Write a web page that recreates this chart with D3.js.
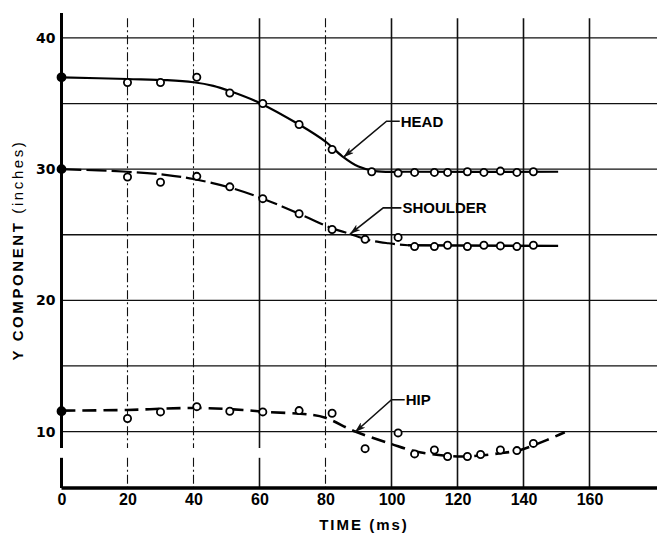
<!DOCTYPE html>
<html>
<head>
<meta charset="utf-8">
<script src="https://cdn.jsdelivr.net/npm/d3@7"></script>
<style>
  body { margin: 0; background: #fff; }
  svg { display: block; }
</style>
</head>
<body>
<div id="graph"></div>
<script>
// Data (time in ms, Y component in inches)

let timeTicks = [0, 20, 40, 60, 80, 100, 120, 140, 160];
let yTicks = [10, 20, 30, 40];
let yGrid = [10, 15, 20, 25, 30, 35, 40];

let headT = [0, 20, 30, 41, 51, 61, 72, 82, 94, 102, 107, 113, 117, 123, 128, 133, 138, 143];
let headY = [37.0, 36.6, 36.6, 37.0, 35.8, 35.0, 33.4, 31.5, 29.8, 29.7, 29.75, 29.75, 29.75, 29.8, 29.75, 29.85, 29.75, 29.8];

let shoulderT = [0, 20, 30, 41, 51, 61, 72, 82, 92, 102, 107, 113, 117, 123, 128, 133, 138, 143];
let shoulderY = [30.0, 29.4, 29.0, 29.45, 28.65, 27.75, 26.6, 25.4, 24.65, 24.8, 24.1, 24.1, 24.2, 24.1, 24.2, 24.15, 24.1, 24.2];

let hipT = [0, 20, 30, 41, 51, 61, 72, 82, 92, 102, 107, 113, 117, 123, 127, 133, 138, 143];
let hipY = [11.55, 11.0, 11.5, 11.9, 11.55, 11.5, 11.6, 11.4, 8.7, 9.9, 8.3, 8.6, 8.1, 8.1, 8.25, 8.6, 8.55, 9.1];

// faired curves as drawn on the chart
let headCurveT = [0, 20, 32, 40, 46, 51, 60, 72, 80, 85, 90, 95, 105, 150.5];
let headCurveY = [37.0, 36.87, 36.78, 36.62, 36.35, 35.95, 35.05, 33.4, 32.1, 31.0, 30.2, 29.85, 29.8, 29.8];

let shoulderCurveT = [0, 20, 32, 40, 51, 61, 72, 82, 87, 93, 99, 105, 150.5];
let shoulderCurveY = [30.0, 29.8, 29.55, 29.25, 28.6, 27.75, 26.6, 25.5, 25.1, 24.6, 24.35, 24.2, 24.15];

let hipCurveT = [0, 20, 40, 55, 62, 75, 80, 89, 100, 107, 115, 122, 133, 139, 147, 152.5];
let hipCurveY = [11.6, 11.65, 11.8, 11.65, 11.5, 11.3, 11.05, 10.0, 9.05, 8.5, 8.2, 8.1, 8.35, 8.6, 9.35, 9.95];

// callouts: label, text start (t, y), elbow (t, y), arrow tip (t, y)
let labels = [
  { name: 'HEAD', t: 102.5, y: 33.65, elbowT: 98.5, elbowY: 33.65, tipT: 85.4, tipY: 30.9 },
  { name: 'SHOULDER', t: 103, y: 27.05, elbowT: 97.5, elbowY: 27.05, tipT: 87.4, tipY: 25.05 },
  { name: 'HIP', t: 104, y: 12.43, elbowT: 100, elbowY: 12.43, tipT: 88.9, tipY: 9.95 },
];

// D3 Code
let width = 657;
let height = 535;

let x = d3.scaleLinear().domain([0, 180]).range([61.5, 655.5]);
let y = d3.scaleLinear().domain([5.7, 41.9]).range([488, 13]);

let font = "'Liberation Sans', Arial, sans-serif";

let svg = d3.select('#graph').append('svg').attr('width', width).attr('height', height);

let defs = svg.append('defs');
defs
  .append('marker')
  .attr('id', 'arrow')
  .attr('markerUnits', 'userSpaceOnUse')
  .attr('markerWidth', 11)
  .attr('markerHeight', 7)
  .attr('refX', 11)
  .attr('refY', 3.5)
  .attr('orient', 'auto')
  .append('path')
  .attr('d', 'M0,0 L11,3.5 L0,7 L3,3.5 Z')
  .style('fill', '#111');

// grid
svg
  .selectAll('line.hgrid')
  .data(yGrid)
  .enter()
  .append('line')
  .attr('class', 'hgrid')
  .attr('x1', x(0))
  .attr('x2', width)
  .attr('y1', (d) => y(d))
  .attr('y2', (d) => y(d))
  .style('stroke', '#111')
  .style('stroke-width', 1.3);

let gapTop = y(8.75);
let gapBottom = y(8.0);

timeTicks.slice(1).forEach(function (t) {
  let broken = t <= 80;
  let dashed = t == 20 || t == 40 || t == 80;
  let segs = broken
    ? [
        [y(41.5), gapTop],
        [gapBottom, y(5.7)],
      ]
    : [[y(41.5), y(5.7)]];
  segs.forEach(function (s) {
    svg
      .append('line')
      .attr('x1', x(t))
      .attr('x2', x(t))
      .attr('y1', s[0])
      .attr('y2', s[1])
      .style('stroke', '#111')
      .style('stroke-width', dashed ? 1.1 : 1.6)
      .style('stroke-dasharray', dashed ? '9,3,2,3' : null);
  });
});

// axes
svg
  .append('line')
  .attr('x1', x(0))
  .attr('x2', width)
  .attr('y1', y(5.7))
  .attr('y2', y(5.7))
  .style('stroke', '#000')
  .style('stroke-width', 3.5);

svg
  .append('line')
  .attr('x1', x(0))
  .attr('x2', x(0))
  .attr('y1', y(41.9))
  .attr('y2', gapTop)
  .style('stroke', '#000')
  .style('stroke-width', 3);

svg
  .append('line')
  .attr('x1', x(0))
  .attr('x2', x(0))
  .attr('y1', gapBottom)
  .attr('y2', y(5.7))
  .style('stroke', '#000')
  .style('stroke-width', 3);

let yAxis = svg
  .append('g')
  .attr('transform', 'translate(' + (x(0) - 5) + ',0)')
  .call(d3.axisLeft(y).tickValues(yTicks).tickSize(0).tickPadding(1).tickFormat(d3.format('d')));
yAxis.select('.domain').remove();
yAxis
  .selectAll('text')
  .style('font-family', "'DejaVu Sans', sans-serif")
  .style('font-weight', 'bold')
  .style('font-size', '14px')
  .style('fill', '#000');

let xAxis = svg
  .append('g')
  .attr('transform', 'translate(0,' + (y(5.7) + 4) + ')')
  .call(d3.axisBottom(x).tickValues(timeTicks).tickSize(0).tickPadding(2).tickFormat(d3.format('d')));
xAxis.select('.domain').remove();
xAxis
  .selectAll('text')
  .style('font-family', font)
  .style('font-weight', 'bold')
  .style('font-size', '16px')
  .style('fill', '#000');

// axis titles
svg
  .append('text')
  .attr('x', 364)
  .attr('y', 530)
  .attr('text-anchor', 'middle')
  .style('font-family', font)
  .style('font-weight', 'bold')
  .style('font-size', '15px')
  .style('letter-spacing', '2px')
  .text('TIME (ms)');

let yTitle = svg
  .append('text')
  .attr('transform', 'translate(23,250) rotate(-90)')
  .attr('text-anchor', 'middle')
  .style('font-family', font)
  .style('font-size', '15px')
  .style('letter-spacing', '2.6px');
yTitle.append('tspan').style('font-weight', 'bold').text('Y COMPONENT ');
yTitle.append('tspan').text('(inches)');

// curves
function curve(ts, vs) {
  return d3
    .line()
    .x((d) => x(d[0]))
    .y((d) => y(d[1]))
    .curve(d3.curveCatmullRom.alpha(0.5))(d3.zip(ts, vs));
}

svg
  .append('path')
  .attr('d', curve(headCurveT, headCurveY))
  .style('fill', 'none')
  .style('stroke', '#000')
  .style('stroke-width', 2.2);

let cut = 11; // shoulder curve goes solid after this index
svg
  .append('path')
  .attr('d', curve(shoulderCurveT.slice(0, cut + 1), shoulderCurveY.slice(0, cut + 1)))
  .style('fill', 'none')
  .style('stroke', '#000')
  .style('stroke-width', 2.2)
  .style('stroke-dasharray', '20,5');

svg
  .append('path')
  .attr('d', curve(shoulderCurveT.slice(cut), shoulderCurveY.slice(cut)))
  .style('fill', 'none')
  .style('stroke', '#000')
  .style('stroke-width', 2.4);

svg
  .append('path')
  .attr('d', curve(hipCurveT, hipCurveY))
  .style('fill', 'none')
  .style('stroke', '#000')
  .style('stroke-width', 2.6)
  .style('stroke-dasharray', '14,7');

// points
function drawPoints(ts, vs) {
  svg
    .selectAll(null)
    .data(d3.zip(ts, vs))
    .enter()
    .append('circle')
    .attr('cx', (d) => x(d[0]))
    .attr('cy', (d) => y(d[1]))
    .attr('r', (d, i) => (i == 0 ? 4 : 3.6))
    .style('fill', (d, i) => (i == 0 ? '#000' : '#fff'))
    .style('stroke', '#000')
    .style('stroke-width', 1.8);
}

drawPoints(headT, headY);
drawPoints(shoulderT, shoulderY);
drawPoints(hipT, hipY);

// callouts
labels.forEach(function (l) {
  svg
    .append('path')
    .attr(
      'd',
      'M' + x(l.t) + ',' + y(l.y) + 'L' + x(l.elbowT) + ',' + y(l.elbowY) + 'L' + x(l.tipT) + ',' + y(l.tipY)
    )
    .style('fill', 'none')
    .style('stroke', '#111')
    .style('stroke-width', 1.6)
    .attr('marker-end', 'url(#arrow)');

  svg
    .append('text')
    .attr('x', x(l.t) + 1)
    .attr('y', y(l.y))
    .attr('dy', '0.36em')
    .style('font-family', font)
    .style('font-weight', 'bold')
    .style('font-size', '15px')
    .text(l.name);
});
</script>
</body>
</html>
